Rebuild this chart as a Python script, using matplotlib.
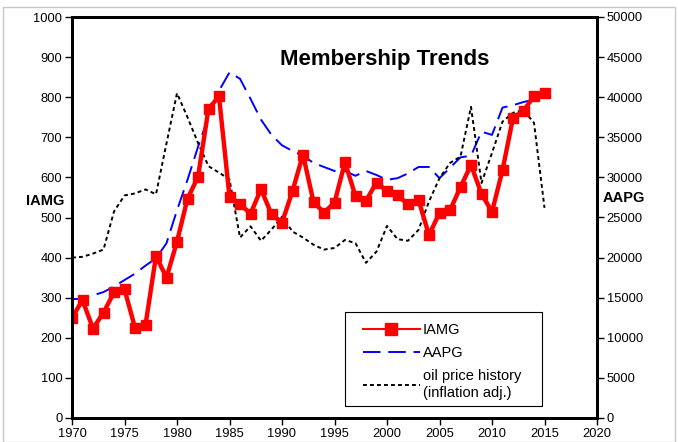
import matplotlib.pyplot as plt
from matplotlib.lines import Line2D
from matplotlib.patches import Rectangle

plt.rcParams['font.family'] = ['Liberation Sans', 'DejaVu Sans']

years = list(range(1970, 2016))

iamg = [250, 294, 223, 263, 313, 321, 225, 232, 404, 350,
        440, 547, 601, 771, 802, 551, 534, 509, 571, 508,
        487, 566, 657, 539, 512, 537, 638, 553, 542, 587,
        566, 555, 533, 544, 456, 512, 518, 576, 631, 559,
        514, 618, 748, 766, 803, 811]

aapg = [14800, 14900, 15300, 15700, 16400, 17200, 18000, 19000, 19900, 21800,
        25900, 29700, 33800, 37600, 40800, 43100, 42300, 39800, 37200, 35300,
        34000, 33300, 32700, 31800, 31300, 30800, 30800, 30200, 30800, 30300,
        29700, 29900, 30500, 31300, 31300, 29900, 31200, 32500, 32700, 35700,
        35300, 38700, 39000, 39400, 39700, 40000]

# oil price history, scaled to the IAMG axis
oil = [400, 402, 410, 420, 515, 555, 560, 570, 558, 685,
       810, 750, 686, 628, 612, 595, 450, 478, 442, 470,
       502, 465, 450, 432, 420, 424, 444, 436, 387, 415,
       479, 446, 442, 469, 540, 598, 636, 652, 776, 586,
       661, 739, 761, 768, 736, 524]

fig = plt.figure(figsize=(6.78, 4.42), dpi=100)
fig.patches.append(Rectangle((3 / 678, 0.0), 672 / 678, 1 - 7 / 442, transform=fig.transFigure,
                             fill=False, edgecolor='#c8c8c8', linewidth=1))
ax = fig.add_axes([72 / 678, 24 / 442, 525 / 678, 401 / 442])
ax2 = ax.twinx()
ax.set_zorder(ax2.get_zorder() + 1)
ax.patch.set_visible(False)

l2, = ax2.plot(years, aapg, color='blue', linewidth=1.4, dashes=(9, 4))
l3, = ax.plot(years, oil, color='black', linewidth=1.4, dashes=(2, 1.6))
ax.plot(years, iamg, color='red', linewidth=3.2, marker='s', markersize=7)
# legend shows the IAMG line thinner than the plotted one
l1 = Line2D([], [], color='red', linewidth=1.5, marker='s', markersize=8)

ax.set_xlim(1970, 2020)
ax.set_ylim(0, 1000)
ax2.set_ylim(0, 50000)
ax.set_xticks(range(1970, 2021, 5))
ax.set_yticks(range(0, 1001, 100))
ax2.set_yticks(range(0, 50001, 5000))

for a in (ax, ax2):
    for s in a.spines.values():
        s.set_linewidth(2)
    a.tick_params(labelsize=9.3, length=5, width=1, direction='out', pad=2)

ax.text(-0.0505, 0.54, 'IAMG', transform=ax.transAxes, fontsize=10.5, fontweight='bold',
        ha='center', va='center')
ax2.text(1.051, 0.549, 'AAPG', transform=ax.transAxes, fontsize=10.5, fontweight='bold',
         ha='center', va='center')
ax.text(0.596, 0.895, 'Membership Trends', transform=ax.transAxes, fontsize=16,
        fontweight='bold', ha='center', va='center')

# legend box drawn separately so the side padding can be wider than the top/bottom
ax.add_patch(Rectangle((0.52, 0.03), 0.375, 0.234, transform=ax.transAxes, facecolor='white',
                       edgecolor='black', linewidth=0.8, zorder=5))
leg = ax.legend([l1, l2, l3], ['IAMG', 'AAPG', 'oil price history\n(inflation adj.)'],
                loc='upper left', bbox_to_anchor=(0.554, 0.236), borderaxespad=0, borderpad=0,
                fontsize=10.5, handlelength=3.9, handletextpad=0.2, frameon=False,
                labelspacing=0.62)
leg.set_zorder(6)

fig.savefig('out.png', dpi=100)
